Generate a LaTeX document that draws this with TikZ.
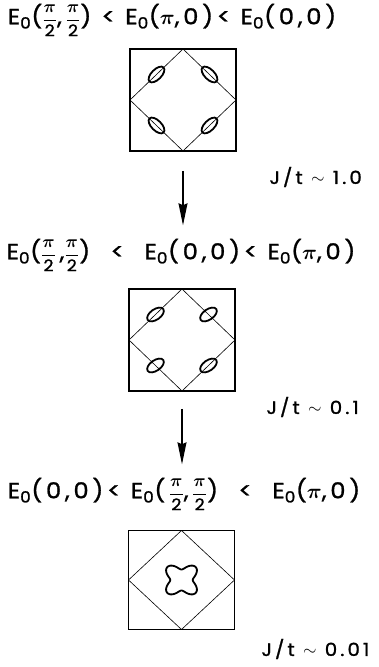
\documentclass[tikz,border=0pt]{standalone}
\usepackage{amsmath}
\usepackage{fontspec}
\setmainfont{Poppins}[LetterSpace=17,FakeBold=1.2,FakeStretch=1.1]
\usetikzlibrary{arrows.meta,calc}
\newcommand{\Ez}{E\textsubscript{0}}
\newcommand{\pp}{$\boldsymbol\pi$}
\newcommand{\hpi}{{\fontsize{16}{16}\selectfont$\dfrac{\boldsymbol\pi}{\text{2}}$}}
\begin{document}
\begin{tikzpicture}[x=1pt,y=1pt,font=\fontsize{22}{24}\selectfont,
  bz/.style={draw,line width=1.6pt,minimum width=106pt,minimum height=102pt,inner sep=0pt,outer sep=0pt},
  fs/.style={line width=.6pt},pk/.style={line width=1.8pt},
  jt/.style={anchor=west,font=\fontsize{18}{20}\selectfont},
  flow/.style={line width=1.2pt,-{Stealth[length=22pt,width=9pt,inset=2pt]}}]
\useasboundingbox (0,0) rectangle (378,667);
\node (t1) at (172,647){\Ez(\hpi,\,\hpi) < \Ez(\pp,0)<\ \Ez(0,0)};
\node (t2) at (181,412){\Ez(\hpi\,,\hpi)\ \ <\ \ \Ez(0,0)< \Ez(\pp,0)};
\node (t3) at (184,173){\Ez(0,0)< \Ez(\,\hpi,\,\hpi)\ \ <\ \ \Ez(\pp,0)};
\node[bz] (b1) at (183,567){};\node[bz] (b2) at (182,327){};\node[bz,minimum height=99pt] (b3) at (181.5,87){};
\foreach \b in {b1,b2,b3}{\draw[fs] (\b.north)--(\b.east)--(\b.south)--(\b.west)--cycle;}
\foreach \a/\c/\r in {north/west/45,north/east/-45,south/west/-45,south/east/45}{\path ($(b1.\a)!.5!(b1.\c)$) coordinate (p);\draw[pk,rotate around={\r:(p)}] (p) ellipse[x radius=10,y radius=5];}
\foreach \a/\c in {north/west,north/east,south/west,south/east}{\path ($(b2.\a)!.5!(b2.\c)$) coordinate (q);\draw[pk,rotate around={35:(q)}] (q) ellipse[x radius=9.5,y radius=5.2];}
\draw[pk,shift={(b3.center)},xscale=1.07] plot[domain=0:360,samples=121,smooth] (\x:{14.5-4*cos(4*\x)});
\node[jt] (j1) at (266,490){J\,/\,t $\sim$ 1.0};\node[jt] (j2) at (263,260){J\,/\,t $\sim$ 0.1};\node[jt] (j3) at (258,18){J\,/\,t $\sim$ 0.01};
\draw[flow,shorten <=20pt,shorten >=10pt] (b1.south) -- (b1.south |- t2.north);
\draw[flow,shorten <=18pt,shorten >=10pt] (b2.south) -- (b2.south |- t3.north);
\end{tikzpicture}
\end{document}
